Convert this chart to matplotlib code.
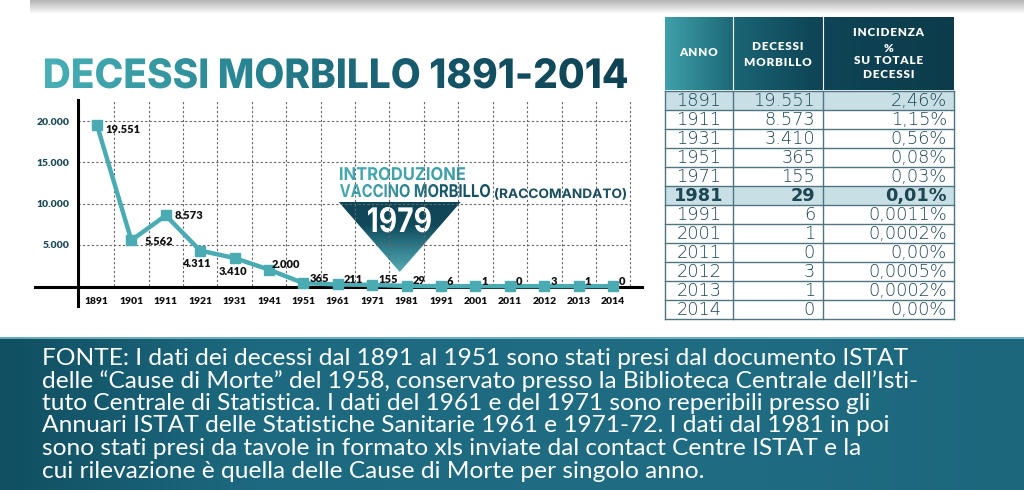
import numpy as np
import matplotlib
matplotlib.use('Agg')
import matplotlib.pyplot as plt
from matplotlib.colors import LinearSegmentedColormap
from matplotlib.patches import Polygon, Rectangle, PathPatch
from matplotlib.textpath import TextPath
from matplotlib.font_manager import FontProperties
from matplotlib.transforms import Affine2D

plt.rcParams['font.family'] = ['Lato', 'DejaVu Sans']

# dati del grafico
years = ['1891', '1901', '1911', '1921', '1931', '1941', '1951', '1961',
         '1971', '1981', '1991', '2001', '2011', '2012', '2013', '2014']
deaths = [19551, 5562, 8573, 4311, 3410, 2000, 365, 211,
          155, 29, 6, 1, 0, 3, 1, 0]
y_ticks = [5000, 10000, 15000, 20000]
vaccine_year = 1979

# dati della tabella
tab_years = ['1891', '1911', '1931', '1951', '1971', '1981',
             '1991', '2001', '2011', '2012', '2013', '2014']
tab_deaths = ['19.551', '8.573', '3.410', '365', '155', '29',
              '6', '1', '0', '3', '1', '0']
tab_incid = ['2,46%', '1,15%', '0,56%', '0,08%', '0,03%', '0,01%',
             '0,0011%', '0,0002%', '0,00%', '0,0005%', '0,0002%', '0,00%']
highlight_rows = ['1891', '1981']
bold_rows = ['1981']

source_lines = [
    'FONTE: I dati dei decessi dal 1891 al 1951 sono stati presi dal documento ISTAT',
    'delle \u201cCause di Morte\u201d del 1958, conservato presso la Biblioteca Centrale dell\u2019Isti-',
    'tuto Centrale di Statistica. I dati del 1961 e del 1971 sono reperibili presso gli',
    'Annuari ISTAT delle Statistiche Sanitarie 1961 e 1971-72. I dati dal 1981 in poi',
    'sono stati presi da tavole in formato xls inviate dal contact Centre ISTAT e la',
    'cui rilevazione \u00e8 quella delle Cause di Morte per singolo anno.',
]


def fmt(v):
    return f'{v:,}'.replace(',', '.')


def spaced(s):
    return '\u200a'.join(s)


teal = '#4aabb3'
dark = '#134b5c'
W, H = 1024, 490

fig = plt.figure(figsize=(W / 100, H / 100), dpi=100)
bg = fig.add_axes([0, 0, 1, 1])
bg.axis('off')
bg.set_xlim(0, W)
bg.set_ylim(H, 0)


def grad_img(extent, stops, vertical=False, clip=None, z=1):
    cmap = LinearSegmentedColormap.from_list('g', stops)
    g = np.linspace(0, 1, 256)
    arr = g.reshape(-1, 1) if vertical else g.reshape(1, -1)
    im = bg.imshow(arr, cmap=cmap, extent=extent, aspect='auto', origin='upper',
                   interpolation='bilinear', zorder=z)
    if clip is not None:
        im.set_clip_path(clip)
    return im


def path_text(s, x, base, width, height, stops, weight='bold', family='Inter', z=5):
    fp = FontProperties(family=family, weight=weight)
    tp = TextPath((0, 0), s, size=100, prop=fp)
    bb = tp.get_extents()
    sx = width / bb.width
    sy = height / bb.y1
    tr = Affine2D().translate(-bb.x0, 0).scale(sx, -sy).translate(x, base) + bg.transData
    patch = PathPatch(tp, transform=tr, fc='none', ec='none')
    bg.add_patch(patch)
    grad_img((x, x + width, base - bb.y0 * sy + 2, base - bb.y1 * sy - 2), stops, clip=patch, z=z)
    return x + width


# ombra in alto
grad_img((30, W, 14, 0), ['#b4b4b4', '#ffffff'], vertical=True, z=0)

# titolo
path_text('DECESSI MORBILLO 1891-2014', 45, 88, 582, 30,
          ['#48b0b6', '#2a8693', '#155669', '#0e4252'], weight='heavy')

# ---------------- grafico ----------------
ax = fig.add_axes([78 / W, (H - 287) / H, (640 - 78) / W, (287 - 100) / H])
ax.patch.set_alpha(0)
x = np.arange(len(years))
ax.set_xlim(-0.55, 15.78)
ax.set_ylim(-100, 22570)
ax.hlines(y_ticks, -0.55, 15.5, colors='#666666', linestyles=(0, (2, 2)), lw=0.8)
ax.vlines(x + 0.5, 0, 22570, colors='#666666', linestyles=(0, (2, 2)), lw=0.8)
for s in ax.spines.values():
    s.set_visible(False)
ax.plot([0, 0], [-0.1, 1], transform=ax.transAxes, color='black', lw=2.2, clip_on=False)
ax.plot([-0.0765, 1.0036], [0, 0], transform=ax.transAxes, color='black', lw=2.2,
        clip_on=False, zorder=2)
ax.plot(x, deaths, color=teal, lw=3.2, marker='s', ms=7.5, clip_on=False, zorder=4)

ax.set_yticks(y_ticks)
ax.set_yticklabels([fmt(v) for v in y_ticks], fontsize=7.5, fontweight='heavy', color='#1c4b5a')
ax.set_xticks(x)
ax.set_xticklabels(years, fontsize=7.5, fontweight='heavy', color='#111111')
ax.tick_params(length=0)
ax.tick_params(axis='y', pad=6)
ax.tick_params(axis='x', pad=7)

# etichette dei valori (spostamento in pixel)
label_off = {0: (8, 5, 'left'), 1: (13, 1, 'left'), 2: (9, 0, 'left'),
             3: (-4, 13, 'center'), 4: (-2, 13, 'center'), 5: (3, -5, 'left')}
for i, v in enumerate(deaths):
    dx, dy, ha = label_off.get(i, (6, -5, 'left'))
    ax.annotate(fmt(v), (x[i], v), xytext=(dx * 0.72, -dy * 0.72), textcoords='offset points',
                ha=ha, va='center', fontsize=8, fontweight='heavy', color='#111111',
                annotation_clip=False, zorder=5)

# introduzione vaccino: triangolo all'anno 1979
vx = 8 + (vaccine_year - 1971) / 10
apex_x = ax.transData.transform((vx, 0))[0]
tri = Polygon([(apex_x - 61, 202), (apex_x + 61, 202), (apex_x, 272)], closed=True,
              fc='none', ec='none')
bg.add_patch(tri)
grad_img((apex_x - 61, apex_x + 61, 272, 202), ['#0f4657', '#11495a', '#2f7f8e', '#5aa9b3'],
         vertical=True, clip=tri, z=3)
path_text(str(vaccine_year), apex_x - 32, 232, 63, 25, ['#ffffff', '#ffffff'])
path_text('INTRODUZIONE', 340, 180, 125, 13, ['#45a9b0', '#3d9ea7'])
xr = path_text('VACCINO MORBILLO', 340, 197, 150, 13, ['#45a9b0', '#3a97a2', '#175a6c', '#134f61'])
path_text('(RACCOMANDATO)', xr + 5, 198, 131, 10, ['#1a4d5e', '#1a4d5e'])

# ---------------- tabella ----------------
col_x = [665, 733, 823, 954]
head_top, head_bot = 17, 90
row_top, row_h = 91, 19.0
grad_img((col_x[0], col_x[-1], head_bot, head_top),
         ['#3ea0aa', '#1a6474', '#0f4758', '#0d4050', '#0c3c4b'], z=2)
for cx in col_x[1:-1]:
    bg.plot([cx, cx], [head_top, head_bot], color='white', lw=0.8, zorder=3)
hfont = dict(color='white', fontsize=8.5, fontweight='heavy', ha='center', va='center', zorder=4)
bg.text((col_x[0] + col_x[1]) / 2, 53, spaced('ANNO'), **hfont)
bg.text((col_x[1] + col_x[2]) / 2, 47, spaced('DECESSI'), **hfont)
bg.text((col_x[1] + col_x[2]) / 2, 62, spaced('MORBILLO'), **hfont)
for yy, t in zip([33, 48, 61, 75], ['INCIDENZA', '%', 'SU TOTALE', 'DECESSI']):
    bg.text((col_x[2] + col_x[3]) / 2, yy, spaced(t), **hfont)

n = len(tab_years)
for i, (yr, d, inc) in enumerate(zip(tab_years, tab_deaths, tab_incid)):
    top = row_top + i * row_h
    if yr in highlight_rows:
        bg.add_patch(Rectangle((col_x[0], top), col_x[-1] - col_x[0], row_h,
                               fc='#c7dfe5', ec='none', zorder=1))
    w = 'bold' if yr in bold_rows else 'light'
    kw = dict(fontsize=12.8, fontweight=w, color='#1d4653', va='center', zorder=4,
              family=['DejaVu Sans'])
    bg.text((col_x[0] + col_x[1]) / 2, top + row_h / 2 + 0.5, yr, ha='center', **kw)
    bg.text(col_x[2] - 8, top + row_h / 2 + 0.5, d, ha='right', **kw)
    bg.text(col_x[3] - 7, top + row_h / 2 + 0.5, inc, ha='right', **kw)
for i in range(n + 1):
    yy = row_top + i * row_h
    bg.plot([col_x[0], col_x[-1]], [yy, yy], color='#4f7581', lw=1.0, zorder=3)
for cx in col_x:
    bg.plot([cx, cx], [row_top, row_top + n * row_h], color='#4f7581', lw=1.0, zorder=3)

# ---------------- fascia fonte ----------------
grad_img((0, W, H, 337), ['#114f62', '#1d6a80', '#1f6b81', '#1f6b81', '#1c677c'], z=1)
bg.plot([0, W], [337.5, 337.5], color='#7dbccb', lw=1.2, zorder=2)
renderer = fig.canvas.get_renderer()
src_texts = []
for i, line in enumerate(source_lines):
    t = bg.text(42, 358 + i * 22.6, line, color='white', fontsize=14, fontweight='normal',
                family=['Lato', 'DejaVu Sans'], ha='left', va='center', zorder=4)
    src_texts.append(t)
scale = 868 / src_texts[0].get_window_extent(renderer).width
for t in src_texts:
    t.set_fontsize(14 * scale)

bg.set_xlim(0, W)
bg.set_ylim(H, 0)
fig.savefig('out.png', dpi=100)
